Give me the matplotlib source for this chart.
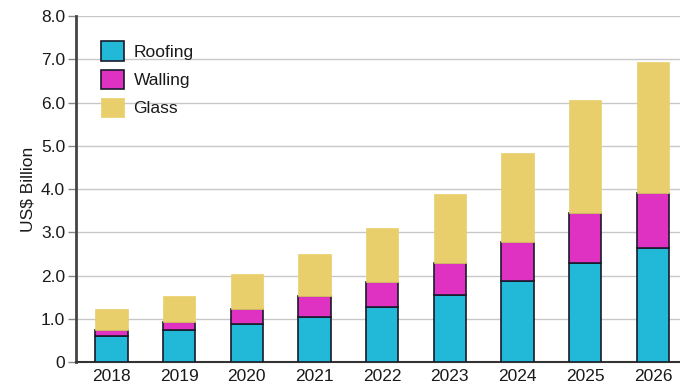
import matplotlib
matplotlib.use("Agg")
import matplotlib.pyplot as plt
import numpy as np

years = ["2018", "2019", "2020", "2021", "2022", "2023", "2024", "2025", "2026"]
# cumulative tops
roofing = [0.59, 0.74, 0.88, 1.05, 1.28, 1.55, 1.88, 2.30, 2.63]
walling_top = [0.75, 0.93, 1.23, 1.53, 1.84, 2.28, 2.78, 3.45, 3.92]
glass_top = [1.22, 1.53, 2.03, 2.50, 3.10, 3.88, 4.84, 6.06, 6.94]
walling = [w - r for w, r in zip(walling_top, roofing)]
glass = [g - w for g, w in zip(glass_top, walling_top)]

series_names = ["Roofing", "Walling", "Glass"]
colors = ["#22B9D8", "#E032C2", "#E9CF6B"]

plt.rcParams['font.family'] = ['Liberation Sans', 'DejaVu Sans']
plt.rcParams['text.color'] = '#1a1a1a'
fig = plt.figure(figsize=(6.8, 3.92), dpi=100)
ax = fig.add_axes([0.112, 0.0765, 0.888, 0.8825])

x = np.arange(len(years))
w = 0.48
b1 = ax.bar(x, roofing, w, color=colors[0], edgecolor="#1a1a2a", linewidth=1.2, label=series_names[0], zorder=3)
b2 = ax.bar(x, walling, w, bottom=roofing, color=colors[1], edgecolor="#1a1a2a", linewidth=1.2, label=series_names[1], zorder=3)
b3 = ax.bar(x, glass, w, bottom=walling_top, color=colors[2], edgecolor=colors[2], linewidth=0.5, label=series_names[2], zorder=3)

ax.set_xlim(-0.52, 8.4)
ax.set_ylim(0, 8.0)
yt = np.arange(0, 9, 1.0)
ax.set_yticks(yt)
ax.set_yticklabels(["0"] + [f"{v:.1f}" for v in yt[1:]], fontsize=12.5, color="#1a1a1a")
ax.set_xticks(x)
ax.set_xticklabels(years, fontsize=12.5, color="#1a1a1a")
ax.yaxis.grid(True, color="#c8c8c8", linewidth=1.0, zorder=0)
ax.set_axisbelow(True)
for s in ["top", "right"]:
    ax.spines[s].set_visible(False)
ax.spines["left"].set_color("#444444")
ax.spines["left"].set_linewidth(2.0)
ax.spines["bottom"].set_color("#333333")
ax.spines["bottom"].set_linewidth(1.5)
ax.tick_params(axis="y", length=6, width=1, color="#888888", pad=2)
ax.tick_params(axis="x", length=0, pad=5)
ax.set_ylabel("US$ Billion", fontsize=12.5, labelpad=4, color="#1a1a1a")

leg = ax.legend(handles=[b1, b2, b3], loc="upper left", bbox_to_anchor=(0.016, 0.972),
                frameon=False, fontsize=12.5, handlelength=1.3, handleheight=1.35,
                labelspacing=0.5, handletextpad=0.55)

fig.savefig("out.png", dpi=100)
